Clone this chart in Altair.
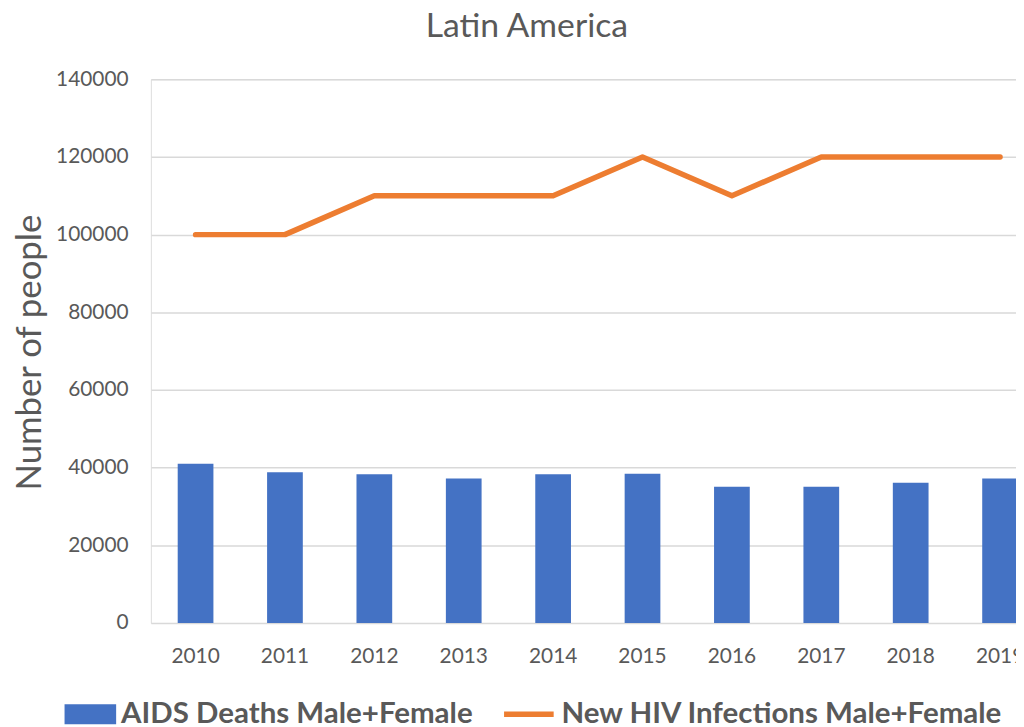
import altair as alt
import pandas as pd

years = ["2010", "2011", "2012", "2013", "2014", "2015", "2016", "2017", "2018", "2019"]
deaths = [41000, 38800, 38300, 37200, 38300, 38400, 35100, 35100, 36100, 37200]
infections = [100000, 100000, 110000, 110000, 110000, 120000, 110000, 120000, 120000, 120000]
series_deaths = "AIDS Deaths Male+Female"
series_inf = "New HIV Infections Male+Female"
y_ticks = [0, 20000, 40000, 60000, 80000, 100000, 120000, 140000]

df = pd.DataFrame({
    "year": years,
    "deaths": deaths,
    "infections": infections,
    "s_d": [series_deaths] * len(years),
    "s_i": [series_inf] * len(years),
})

FONT = "Lato"
GREY = "#595959"
BLUE = "#4472C4"
ORANGE = "#ED7D31"

x_enc = alt.X(
    "year:O", title=None, sort=years,
    scale=alt.Scale(range=[0, 901], paddingInner=0.6, paddingOuter=0.3),
    axis=alt.Axis(labelAngle=0, domain=False, ticks=False, labelPadding=23,
                  labelFontSize=21, labelColor=GREY, labelFont=FONT, grid=False),
)

y_axis = alt.Axis(values=y_ticks, format="d", title="Number of people",
                  domain=False, ticks=False, labelPadding=23, labelFontSize=21,
                  labelColor=GREY, labelFont=FONT, titleFont=FONT, titleFontSize=35,
                  titleFontWeight="normal", titleColor=GREY, titleX=-122, titleY=275,
                  titleAlign="center", titleBaseline="middle",
                  grid=True, gridColor="#d9d9d9", gridWidth=1.5)
y_scale = alt.Scale(domain=[0, 140000], nice=False)

bars = alt.Chart(df).mark_bar(size=36).encode(
    x=x_enc,
    y=alt.Y("deaths:Q", scale=y_scale, axis=y_axis),
    fill=alt.Fill("s_d:N", scale=alt.Scale(domain=[series_deaths], range=[BLUE]),
                  legend=alt.Legend(title=None, orient="none", legendX=-87, legendY=614,
                                    symbolType="M-1,-0.385H1V0.385H-1Z", symbolSize=2704,
                                    symbolOpacity=1, symbolStrokeWidth=0,
                                    labelFont=FONT, labelFontSize=29.7, labelFontWeight="bold",
                                    labelColor=GREY, labelOffset=5, labelLimit=0, padding=0)),
)

line = alt.Chart(df).mark_line(strokeWidth=5.5, strokeCap="round", strokeJoin="round").encode(
    x=x_enc,
    y=alt.Y("infections:Q", scale=y_scale, axis=y_axis),
    stroke=alt.Stroke("s_i:N", scale=alt.Scale(domain=[series_inf], range=[ORANGE]),
                      legend=alt.Legend(title=None, orient="none", legendX=353, legendY=612,
                                        symbolType="stroke", symbolSize=2500,
                                        symbolStrokeWidth=5.5,
                                        labelFont=FONT, labelFontSize=29.7, labelFontWeight="bold",
                                        labelColor=GREY, labelOffset=5, labelLimit=0, padding=0)),
)

chart = alt.layer(bars, line).properties(
    width=872, height=548,
    autosize=alt.AutoSizeParams(type="none"),
    padding={"left": 144, "top": 69, "right": 0, "bottom": 102},
    title=alt.Title("Latin America", fontSize=34, font=FONT, color=GREY,
                    fontWeight="normal", anchor="middle", dx=-57, offset=25),
).configure_view(strokeWidth=0).configure(background="white")

chart.save("out.html", embed_options={"renderer": "svg", "actions": False})
